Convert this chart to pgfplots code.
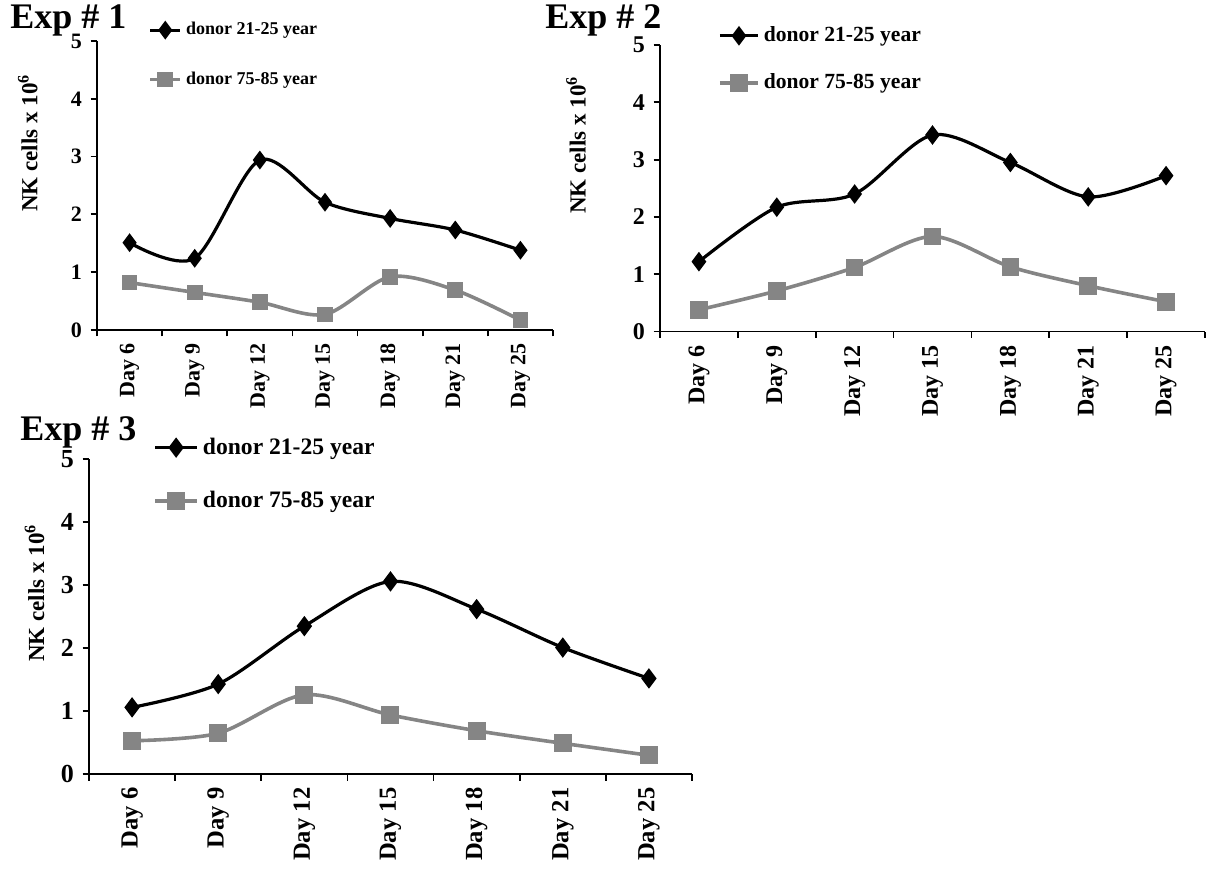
\documentclass[border=0pt]{standalone}
\usepackage{pgfplots}
\pgfplotsset{compat=1.18}
\usepackage{fontspec}
\setmainfont{Liberation Serif}
\definecolor{ggray}{gray}{0.52}
\pgfplotsset{
  nkstyle/.style={
    scale only axis,
    axis x line*=bottom, axis y line*=left,
    xmin=-0.5, xmax=6.5, ymin=0, ymax=5,
    xtick={0,...,6},
    xticklabels={Day 6,Day 9,Day 12,Day 15,Day 18,Day 21,Day 25},
    minor xtick={-0.5,0.5,...,6.5},
    ytick={0,...,5},
    tick align=outside,
    major tick length=3.2pt, minor tick length=3.2pt,
    major x tick style={draw=none},
    minor x tick style={black, line width=0.9pt},
    major y tick style={black, line width=0.9pt},
    axis line style={line width=0.9pt},
    xticklabel style={rotate=90, anchor=east, xshift=0pt, yshift=0pt},
    /pgf/number format/assume math mode=true,
    legend cell align=left,
    clip=false,
  },
  legimg/.style={legend image code/.code={\draw[mark repeat=2,mark phase=2,##1] plot coordinates {(0pt,0pt) (#1,0pt) (2*#1,0pt)};}},
  blk/.style={black, line width=1.6pt, smooth, mark=diamond*, mark size=3.4pt, mark options={solid}},
  gry/.style={ggray, line width=1.8pt, smooth, mark=square*, mark size=3pt, mark options={solid}},
}
\begin{document}
\begin{tikzpicture}
\path[use as bounding box] (0,0) rectangle (603pt,435pt);
% ---------- Exp 1 ----------
\begin{axis}[nkstyle, at={(48.5pt,270pt)}, anchor=south west, width=228pt, height=144.5pt,
  xticklabel style={font=\bfseries\fontsize{11}{11}\selectfont},
  yticklabel style={font=\bfseries\fontsize{11}{11}\selectfont, xshift=-0.8pt},
  ylabel={NK cells x 10\textsuperscript{6}},
  ylabel style={font=\bfseries\fontsize{11.5}{11.5}\selectfont, at={(axis description cs:-0.152,0.647)}, anchor=center},
  legimg=7.5pt,
  legend style={at={(0.112,0.952)}, anchor=west, draw=none, fill=none, inner sep=0pt, row sep=13pt,
    font=\bfseries\fontsize{9}{9}\selectfont},
]
\addplot[blk] coordinates {(0,1.51) (1,1.24) (2,2.94) (3,2.21) (4,1.93) (5,1.73) (6,1.38)};
\addlegendentry{donor 21-25 year}
\addplot[gry] coordinates {(0,0.82) (1,0.65) (2,0.48) (3,0.27) (4,0.92) (5,0.69) (6,0.17)};
\addlegendentry{donor 75-85 year}
\end{axis}
% ---------- Exp 2 ----------
\begin{axis}[nkstyle, at={(330pt,269.2pt)}, anchor=south west, width=272.5pt, height=143.3pt,
  xticklabel style={font=\bfseries\fontsize{12}{12}\selectfont},
  yticklabel style={font=\bfseries\fontsize{12}{12}\selectfont, xshift=-0.8pt},
  ylabel={NK cells x 10\textsuperscript{6}},
  ylabel style={font=\bfseries\fontsize{11.5}{11.5}\selectfont, at={(axis description cs:-0.154,0.651)}, anchor=center},
  legimg=9.5pt,
  legend style={at={(0.106,0.950)}, anchor=west, draw=none, fill=none, inner sep=0pt, row sep=10.5pt,
    font=\bfseries\fontsize{10.8}{10.8}\selectfont},
]
\addplot[blk, mark size=3.6pt] coordinates {(0,1.22) (1,2.17) (2,2.40) (3,3.43) (4,2.95) (5,2.35) (6,2.72)};
\addlegendentry{donor 21-25 year}
\addplot[gry, mark size=3.5pt] coordinates {(0,0.38) (1,0.71) (2,1.12) (3,1.66) (4,1.13) (5,0.80) (6,0.52)};
\addlegendentry{donor 75-85 year}
\end{axis}
% ---------- Exp 3 ----------
\begin{axis}[nkstyle, at={(44.5pt,47.9pt)}, anchor=south west, width=301.5pt, height=157.5pt,
  xticklabel style={font=\bfseries\fontsize{12.3}{12.3}\selectfont},
  yticklabel style={font=\bfseries\fontsize{13}{13}\selectfont, xshift=-0.8pt},
  ylabel={NK cells x 10\textsuperscript{6}},
  ylabel style={font=\bfseries\fontsize{11.5}{11.5}\selectfont, at={(axis description cs:-0.0905,0.575)}, anchor=center},
  legimg=10.5pt,
  legend style={at={(0.106,0.952)}, anchor=west, draw=none, fill=none, inner sep=0pt, row sep=13pt,
    font=\bfseries\fontsize{11.8}{11.8}\selectfont},
]
\addplot[blk, mark size=3.8pt] coordinates {(0,1.06) (1,1.43) (2,2.35) (3,3.06) (4,2.62) (5,2.01) (6,1.52)};
\addlegendentry{donor 21-25 year}
\addplot[gry, mark size=3.6pt] coordinates {(0,0.53) (1,0.65) (2,1.26) (3,0.94) (4,0.69) (5,0.49) (6,0.30)};
\addlegendentry{donor 75-85 year}
\end{axis}
% titles
\node[anchor=west, font=\bfseries\fontsize{18}{18}\selectfont, inner sep=0pt] at (5pt,425pt) {Exp \# 1};
\node[anchor=west, font=\bfseries\fontsize{18}{18}\selectfont, inner sep=0pt] at (272.5pt,425pt) {Exp \# 2};
\node[anchor=west, font=\bfseries\fontsize{18}{18}\selectfont, inner sep=0pt] at (10pt,219pt) {Exp \# 3};
\end{tikzpicture}
\end{document}
